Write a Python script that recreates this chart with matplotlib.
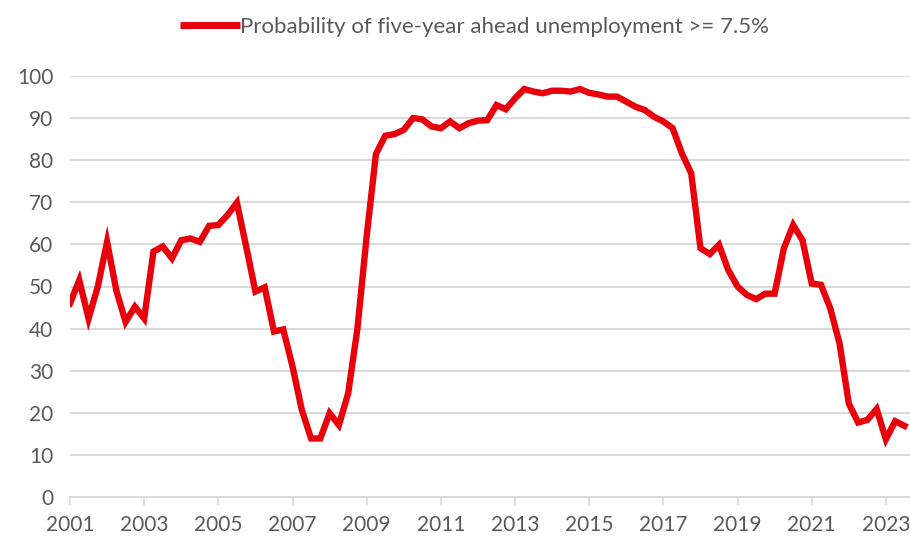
import matplotlib
matplotlib.use("Agg")
import matplotlib.pyplot as plt
import numpy as np

# Quarterly data starting 2001 Q1
start_year = 2001
values = [
    46.0, 51.5, 42.4, 50.0, 60.6, 49.0, 41.6, 45.2, 42.4, 58.3,
    59.5, 56.7, 61.0, 61.4, 60.6, 64.4, 64.6, 67.0, 69.9, 59.5,
    48.8, 49.8, 39.3, 39.8, 31.0, 20.7, 13.9, 13.9, 19.9, 17.1,
    24.6, 40.0, 62.0, 81.5, 85.8, 86.2, 87.2, 90.0, 89.7, 88.0,
    87.6, 89.2, 87.6, 88.8, 89.4, 89.5, 93.1, 92.1, 94.7, 96.9,
    96.3, 95.9, 96.5, 96.5, 96.3, 96.9, 96.0, 95.6, 95.1, 95.1,
    93.9, 92.7, 91.9, 90.3, 89.2, 87.6, 81.6, 76.9, 59.1, 57.7,
    59.9, 53.9, 50.0, 48.0, 47.0, 48.3, 48.3, 59.1, 64.6, 61.0,
    50.7, 50.4, 44.8, 36.5, 22.2, 17.7, 18.3, 20.9, 13.7, 18.0,
    16.9,
]
tick_years = list(range(2001, 2024, 2))
series_label = "Probability of five-year ahead unemployment >= 7.5%"

x = start_year + np.arange(len(values)) / 4.0

plt.rcParams['font.family'] = ['Lato', 'DejaVu Sans']

fig = plt.figure(figsize=(9.10, 5.37), dpi=100)
ax = fig.add_axes([70/910, 1-497/537, 1-70/910, (497-76)/537])

grey_text = '#595959'
grid_c = '#D9D9D9'

ax.plot(x, values, color='#E8000B', lw=4.6, solid_joinstyle='miter', label=series_label, zorder=3)

ax.set_ylim(0, 100)
ax.set_xlim(2001, 2001 + 90.6/4)
ax.set_yticks(range(0, 101, 10))
ax.set_xticks(tick_years)
ax.set_xticklabels([str(t) for t in tick_years])
ax.yaxis.grid(True, color=grid_c, lw=1.4)
ax.set_axisbelow(True)

for s in ['top', 'right', 'left']:
    ax.spines[s].set_visible(False)
ax.spines['bottom'].set_color(grid_c)
ax.spines['bottom'].set_linewidth(1.4)
ax.tick_params(axis='y', length=0, pad=12, labelsize=15, labelcolor=grey_text)
ax.tick_params(axis='x', length=6, width=1.2, color=grid_c, direction='out', pad=7,
               labelsize=15, labelcolor=grey_text)

leg = fig.legend(loc='center', bbox_to_anchor=(0.521, 1-27/537), frameon=False,
                 fontsize=16, handlelength=2.7, handletextpad=0.0, labelcolor=grey_text)
for l in leg.get_lines():
    l.set_linewidth(5)
    l.set_solid_capstyle('butt')

fig.savefig('out.png', dpi=100)
